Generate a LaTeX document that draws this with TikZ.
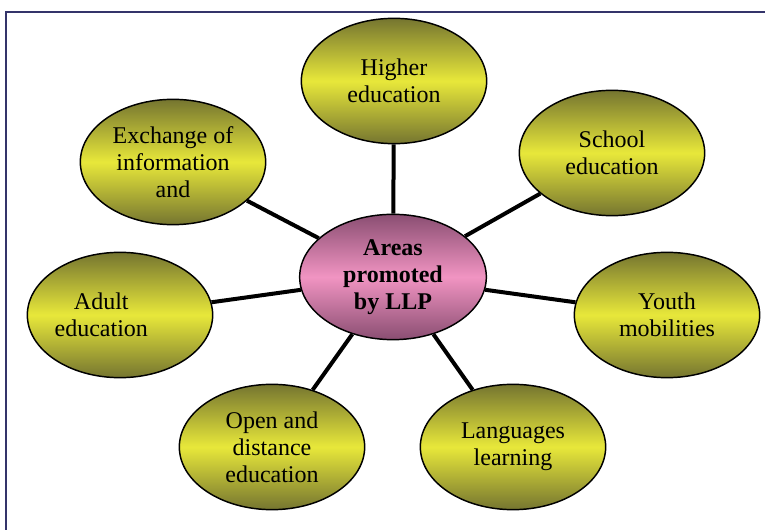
\documentclass[tikz,border=0pt]{standalone}
\usepackage{fontspec}
\setmainfont{Liberation Serif}
\usetikzlibrary{shapes.geometric}
\definecolor{olivedark}{HTML}{757530}
\definecolor{yellowlight}{HTML}{E8E83A}
\definecolor{pinkdark}{HTML}{8A4E72}
\definecolor{pinklight}{HTML}{F194C2}
\definecolor{framenavy}{HTML}{34346A}
\tikzset{
  leaf/.style={ellipse, draw=black, line width=1.1pt, inner sep=0pt,
    minimum width=139pt, minimum height=94pt,
    top color=olivedark, bottom color=olivedark, middle color=yellowlight,
    align=center, font=\fontsize{18}{20.3}\selectfont},
  hub/.style={ellipse, draw=black, line width=1.1pt, inner sep=0pt,
    minimum width=140pt, minimum height=94pt,
    top color=pinkdark, bottom color=pinkdark, middle color=pinklight,
    align=center, font=\fontsize{18}{20.3}\selectfont\bfseries},
  link/.style={line width=3pt, black}
}
\begin{document}
\begin{tikzpicture}[x=0.75pt,y=-0.75pt]
\useasboundingbox (0,0) rectangle (765,530);
\draw[framenavy, line width=1.5pt] (6,545) -- (6,12) -- (780,12);
\node[hub] (c) at (393,277) {Areas\\promoted\\by LLP};
\node[leaf] (he) at (394,81) {Higher\\education};
\node[leaf] (se) at (612,153) {School\\education};
\node[leaf] (ex) at (173,162) {Exchange of\\information\\and};
\node[leaf, label={[xshift=-14pt, align=center, font=\fontsize{18}{20.3}\selectfont]center:{Adult\\education}}] (ad) at (120,315) {};
\node[leaf] (ym) at (667,315) {Youth\\mobilities};
\node[leaf] (od) at (272,447) {Open and\\distance\\education};
\node[leaf] (ll) at (513,447) {Languages\\learning};
\foreach \n in {he,se,ex,ad,ym,od,ll}
  \draw[link] (c) -- (\n);
\end{tikzpicture}
\end{document}
